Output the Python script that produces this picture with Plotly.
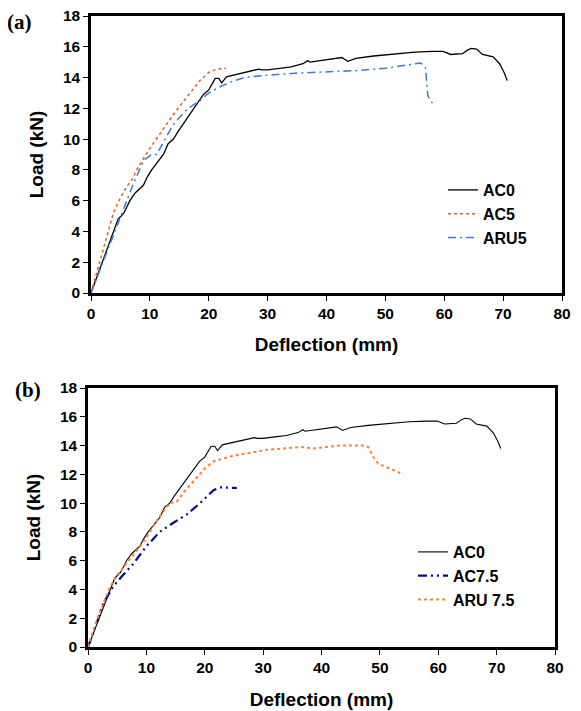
import plotly.graph_objects as go

# AC0 control beam (same curve in both panels)
ac0_x = [0, 1, 2, 3, 4, 4.6, 5, 5.6, 6.6, 7.5, 8.9, 9.5, 10.3, 11.3, 12.3, 13.1, 14, 14.8,
         15.7, 16.4, 17.4, 18.2, 19.1, 20, 21.1, 21.7, 22.2, 23.0, 24, 26, 27.5, 28.5, 29, 30,
         32, 34, 36, 36.8, 37.2, 40, 42.6, 43.6, 45, 48, 52, 55, 58, 59.8, 61.1, 63.1, 64.0,
         64.6, 65.5, 66.5, 68.3, 69.4, 70.2, 70.7]
ac0_y = [0, 1.05, 2.1, 3.1, 4.1, 4.8, 4.95, 5.2, 6.0, 6.5, 7.0, 7.5, 8.0, 8.5, 9.0, 9.7, 10.0, 10.5,
         11.0, 11.4, 12.0, 12.4, 12.9, 13.2, 13.95, 13.95, 13.65, 14.05, 14.15, 14.3, 14.45, 14.55, 14.5, 14.5,
         14.6, 14.7, 14.9, 15.1, 15.0, 15.15, 15.3, 15.05, 15.25, 15.4, 15.55, 15.65, 15.7, 15.7, 15.5, 15.55, 15.8,
         15.9, 15.85, 15.5, 15.35, 14.9, 14.3, 13.8]

# panel (a)
ac5_x = [0, 1, 2, 3, 3.8, 5, 6.06, 7, 7.76, 9, 10, 12, 14, 16, 18.5, 20.2, 21.5, 22.9]
ac5_y = [0, 1.4, 2.8, 4.1, 5.2, 6.2, 6.9, 7.4, 8.0, 8.8, 9.4, 10.5, 11.6, 12.6, 13.8, 14.4, 14.55, 14.6]

aru5_x = [0, 1, 2, 3, 4, 5, 6, 7, 8, 8.9, 10.3, 11.2, 12, 13.9, 15, 16.5, 18.5, 20, 21.9, 24, 26,
          29.8, 35.5, 40, 45, 50, 56.0, 56.8, 57.2, 57.6, 58.0]
aru5_y = [0, 1, 2, 3, 4, 5, 6, 6.9, 7.8, 8.6, 9.0, 9.0, 9.6, 10.9, 11.4, 12.0, 12.5, 13.0, 13.4, 13.75, 14.0,
          14.15, 14.3, 14.35, 14.45, 14.6, 14.95, 14.7, 12.85, 12.5, 12.35]

# panel (b)
ac75_x = [0, 0.9, 2.6, 4.3, 6, 7.8, 10, 12.3, 14.5, 16.9, 19.2, 21.5, 22.6, 24, 25.5]
ac75_y = [0, 0.95, 3.0, 4.2, 5.0, 5.8, 7.0, 8.0, 8.6, 9.2, 10.0, 10.9, 11.1, 11.1, 11.05]

aru75_x = [0, 1, 2, 3.8, 5, 7, 8.9, 10, 11.8, 14, 15.2, 16.5, 18, 20, 21.5, 24.9, 30.6, 36.5, 38.6,
           43.2, 47.1, 48, 48.9, 49.7, 51.1, 54.0]
aru75_y = [0, 1.3, 2.4, 4.2, 5.0, 6.0, 6.97, 7.6, 8.8, 10.0, 10.1, 10.8, 11.5, 12.4, 12.9, 13.3, 13.7, 13.9, 13.8,
           14.0, 14.0, 13.9, 13.2, 12.75, 12.5, 12.0]

# page body has an 8px margin, so the figure is shrunk by that much
OFF = 8
W, H = 581 - OFF, 711 - OFF
bold = dict(family='Liberation Sans, Arial, sans-serif', color='black', weight='bold')

fig = go.Figure()

# top panel
fig.add_trace(go.Scatter(x=ac0_x, y=ac0_y, name='AC0', mode='lines',
                         line=dict(color='black', width=1.3), xaxis='x', yaxis='y', legend='legend'))
fig.add_trace(go.Scatter(x=ac5_x, y=ac5_y, name='AC5', mode='lines',
                         line=dict(color='#E0601E', width=1.5, dash='dot'), xaxis='x', yaxis='y', legend='legend'))
fig.add_trace(go.Scatter(x=aru5_x, y=aru5_y, name='ARU5', mode='lines',
                         line=dict(color='#3C7DC4', width=1.5, dash='8px,4px,2px,4px'),
                         xaxis='x', yaxis='y', legend='legend'))

# bottom panel
fig.add_trace(go.Scatter(x=ac0_x, y=ac0_y, name='AC0', mode='lines',
                         line=dict(color='black', width=1.1), xaxis='x2', yaxis='y2', legend='legend2'))
fig.add_trace(go.Scatter(x=ac75_x, y=ac75_y, name='AC7.5', mode='lines',
                         line=dict(color='#0A0A80', width=2.2, dash='9px,4px,2px,4px,2px,4px'),
                         xaxis='x2', yaxis='y2', legend='legend2'))
fig.add_trace(go.Scatter(x=aru75_x, y=aru75_y, name='ARU 7.5', mode='lines',
                         line=dict(color='#F5843A', width=2, dash='dot'), xaxis='x2', yaxis='y2', legend='legend2'))


def px_x(p):
    return (p - OFF) / W


def px_y(p):
    return 1 - (p - OFF) / H


axis_common = dict(showgrid=False, zeroline=False, showline=True, linecolor='black', linewidth=2.5,
                   mirror=True, ticks='outside', ticklen=5, tickwidth=1.2, tickcolor='black',
                   tickfont=dict(size=15.5, **bold), automargin=False, ticklabeloverflow='allow')

fig.update_layout(
    width=W, height=H,
    paper_bgcolor='white', plot_bgcolor='white',
    margin=dict(l=0, r=0, t=0, b=0),
    xaxis=dict(domain=[px_x(91), px_x(562)], range=[0, 80], dtick=10, anchor='y',
               title=dict(text='Deflection (mm)', font=dict(size=19, **bold), standoff=17),
               **axis_common),
    yaxis=dict(domain=[px_y(293), px_y(16)], range=[0, 18], dtick=2, anchor='x',
               title=dict(text='Load (kN)', font=dict(size=19, **bold), standoff=15),
               **axis_common),
    xaxis2=dict(domain=[px_x(88), px_x(555)], range=[0, 80], dtick=10, anchor='y2',
                title=dict(text='Deflection (mm)', font=dict(size=19, **bold), standoff=18),
                **axis_common),
    yaxis2=dict(domain=[px_y(647), px_y(388)], range=[0, 18], dtick=2, anchor='x2',
                title=dict(text='Load (kN)', font=dict(size=19, **bold), standoff=15),
                **axis_common),
    legend=dict(x=px_x(443), y=px_y(173), xanchor='left', yanchor='top', bgcolor='rgba(0,0,0,0)',
                font=dict(size=16, **bold)),
    legend2=dict(x=px_x(413), y=px_y(535), xanchor='left', yanchor='top', bgcolor='rgba(0,0,0,0)',
                 font=dict(size=16, **bold), tracegroupgap=0),
    annotations=[
        dict(text='<b>(a)</b>', x=px_x(5), y=1, xref='paper', yref='paper', xanchor='left',
             yanchor='top', showarrow=False,
             font=dict(family='Liberation Serif, Times New Roman, serif', size=21, color='black')),
        dict(text='<b>(b)</b>', x=px_x(13), y=px_y(390), xref='paper', yref='paper', xanchor='left',
             yanchor='middle', showarrow=False,
             font=dict(family='Liberation Serif, Times New Roman, serif', size=21, color='black')),
    ],
)

fig.write_html('out.html')
